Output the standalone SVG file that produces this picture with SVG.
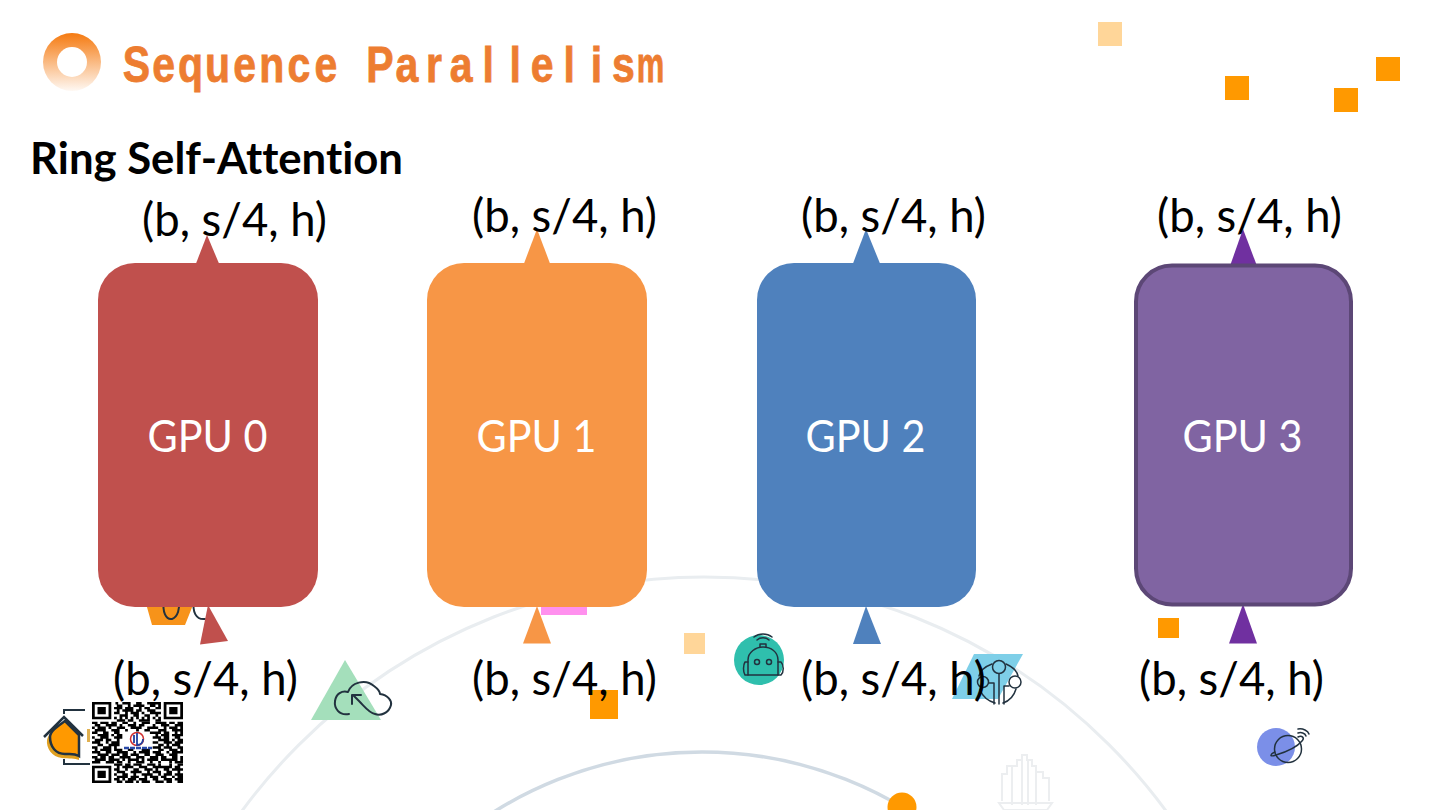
<svg xmlns="http://www.w3.org/2000/svg" width="1440" height="810" viewBox="0 0 1440 810">
<style>
.cal{font-family:"Lato","Carlito","Liberation Sans",sans-serif;font-variant-ligatures:none}
.dim{font-size:47px;fill:#000}
.gpu{font-size:44px;fill:#fff;text-anchor:middle}
.ic{fill:none;stroke:#22323f;stroke-width:2;stroke-linecap:round;stroke-linejoin:round}
.sq{fill:#ff9900}
.sql{fill:#ffd699}
.pale{fill:none;stroke:#eceef0;stroke-width:2}
.ttl{font-family:"Liberation Sans",Arial,sans-serif;font-weight:700;font-size:50px;fill:#ed7d31;stroke:#ed7d31;stroke-width:.8px;text-anchor:middle}
</style>
<defs>
<linearGradient id="ring" x1="0" y1="0" x2="0" y2="1">
<stop offset="0" stop-color="#f57a10"/><stop offset="1" stop-color="#f57a10" stop-opacity="0.05"/>
</linearGradient>
</defs>
<rect width="1440" height="810" fill="#fff"/>
<g id="backdrop">
<circle cx="704" cy="1150" r="573" fill="none" stroke="#e9edf0" stroke-width="3"/>
<circle cx="702" cy="1143" r="391" fill="none" stroke="#d0dae3" stroke-width="3.5"/>
<circle cx="902" cy="807" r="14.500" fill="#ff9900"/>
<rect class="sq" x="1225" y="76" width="24" height="24"/>
<rect class="sq" x="1334" y="88" width="24" height="24"/>
<rect class="sq" x="1376" y="57" width="24" height="24"/>
<rect class="sql" x="1098" y="22" width="24" height="24"/>
<rect class="sql" x="684" y="633" width="21" height="21"/>
<rect class="sq" x="1158" y="618" width="21" height="20"/>
<rect class="sq" x="590" y="690" width="28" height="29"/>
<rect x="541" y="600" width="46" height="15" fill="#ff90ee"/>
<path d="M145 600L152 625H185L195 600Z" fill="#f7931a"/>
<path class="ic" d="M164 600C162 612 166 620 172 619C178 617 180 608 179 600M194 600C192 612 196 620 205 619" />
<path d="M345 660L311 720H381Z" fill="#a4dfbb"/>
<path class="ic" d="M349 714C339 716 334 708 335 701C336 694 342 690 348 692C351 683 365 678 374 686C378 689 380 692 380 694C388 695 392 701 391 705C389 713 381 716 375 714C369 713 365 707 359 701L353 695M352 704V695H361"/>
<circle cx="759" cy="660" r="25" fill="#2fbfad"/>
<g class="ic" style="stroke-width:1.500">
<path d="M753 675V660C753 652 761 647 768 647C776 647 783 652 783 660V675Z" transform="translate(-5 0)"/>
<path d="M748 662H745C743 665 743 672 745 675H748M778 662H781C784 665 784 672 781 675H778"/>
<circle cx="757" cy="662" r="2.500"/><circle cx="769" cy="662" r="2.500"/>
<path d="M760 647V644H766V647M757 640C760 637 766 637 769 640M754 637C759 633 767 633 772 637"/>
</g>
<path d="M974 654H1023L998 699H952Z" fill="#7ecfe8"/>
<g class="ic" style="stroke-width:1.500">
<path d="M1006 664C1013 667 1017 671 1018 676M992 664C984 667 980 671 979 676M980 690C983 697 988 701 995 703M1016 689C1014 696 1009 701 1003 703"/>
<circle cx="999" cy="667" r="6.500"/><circle cx="1015" cy="682" r="6"/><circle cx="983" cy="682" r="5.500"/>
<path d="M999 674V704M994 704V683H989M1004 704V686H1009"/>
</g>
<circle cx="1276" cy="747" r="19" fill="#7b8fe8"/>
<g class="ic" style="stroke-width:1.500">
<circle cx="1288" cy="749" r="13.500"/>
<path d="M1275 752C1269 755 1270 757 1276 755C1286 752 1297 747 1302 741C1305 738 1302 735 1298 737"/>
<path d="M1298 733C1301 732 1305 733 1306 736M1298 729C1303 728 1308 731 1309 734"/>
</g>
<g id="city" class="pale">
<path d="M1002 801V774H1007V766H1012V772M1012 805V766H1017V760H1022V755H1027V760H1032V766H1036V805M1036 772H1043V778H1049V801M1022 760V805M1028 760V805"/>
<path d="M999 803H1052L1047 810H1004Z"/>
</g>
<g id="home">
<path d="M47 740C46 748 52 757 62 758C69 759 75 758 79 760V736C72 730 66 724 64 722C56 727 48 734 47 740Z" fill="#e0a020"/>
<path d="M50 737C50 747 56 754 65 754C70 754 74 753 79 756V735L65 721C58 726 50 731 50 737Z" fill="#ff9900" stroke="#22323f" stroke-width="2.500"/>
<path d="M44 737L64 717L83 736" fill="none" stroke="#22323f" stroke-width="2.500"/>
<path d="M64 714V710H85M64 759V764H90" fill="none" stroke="#22323f" stroke-width="2"/>
<rect x="87" y="729" width="3" height="13" fill="#e0b050"/>
</g>
</g>
<g id="qr" transform="translate(92 702) scale(2.758 2.455)">
<rect width="33" height="33" fill="#fff"/>
<g fill="none" stroke="#000">
<path d="M8.500 .5h1M11 .5h3M16 .5h2M20 .5h5M9 1.500h2M13 1.500h1M15 1.500h4M21 1.500h2M24 1.500h1M8 2.500h3M12 2.500h3M17 2.500h1M19 2.500h2M23 2.500h2M9 3.500h1M11 3.500h4M16 3.500h2M20 3.500h3M8 4.500h2M12 4.500h1M14 4.500h3M18 4.500h1M21 4.500h4M10 5.500h3M15 5.500h2M19 5.500h2M23 5.500h1M8 6.500h1M10 6.500h1M12 6.500h1M14 6.500h1M16 6.500h1M18 6.500h1M20 6.500h1M22 6.500h1M24 6.500h1M9 7.500h3M13 7.500h2M17 7.500h4M23 7.500h2"/>
<path d="M0 8.500h2M3 8.500h3M7 8.500h2M11 8.500h2M15 8.500h1M18 8.500h3M23 8.500h4M28 8.500h2M31 8.500h2M1 9.500h2M5 9.500h4M10 9.500h1M13 9.500h3M17 9.500h2M22 9.500h1M25 9.500h3M30 9.500h3M0 10.500h1M2 10.500h3M6 10.500h1M9 10.500h3M14 10.500h4M20 10.500h4M26 10.500h1M28 10.500h3M32 10.500h1M1 11.500h4M7 11.500h3M12 11.500h1M16 11.500h1M19 11.500h2M24 11.500h3M29 11.500h4M0 12.500h2M4 12.500h2M8 12.500h2M21 12.500h4M26 12.500h2M30 12.500h1M32 12.500h1M2 13.500h4M7 13.500h1M9 13.500h2M23 13.500h1M25 13.500h3M29 13.500h4M0 14.500h1M3 14.500h3M8 14.500h3M22 14.500h3M26 14.500h2M30 14.500h2M1 15.500h3M5 15.500h2M9 15.500h1M24 15.500h4M29 15.500h1M31 15.500h2M0 16.500h3M5 16.500h1M7 16.500h3M22 16.500h2M26 16.500h3M30 16.500h3M2 17.500h2M6 17.500h4M24 17.500h2M27 17.500h1M29 17.500h3M0 18.500h2M4 18.500h3M8 18.500h1M22 18.500h3M26 18.500h3M31 18.500h2M1 19.500h1M3 19.500h4M8 19.500h3M13 19.500h2M18 19.500h3M24 19.500h2M28 19.500h3M32 19.500h1M0 20.500h3M5 20.500h2M9 20.500h4M15 20.500h1M17 20.500h4M22 20.500h3M27 20.500h1M29 20.500h4M2 21.500h4M7 21.500h3M11 21.500h2M14 21.500h3M19 21.500h2M23 21.500h3M28 21.500h3M0 22.500h2M3 22.500h2M6 22.500h2M10 22.500h4M16 22.500h3M21 22.500h3M25 22.500h2M29 22.500h2M32 22.500h1M1 23.500h4M6 23.500h4M11 23.500h1M13 23.500h4M18 23.500h1M20 23.500h4M25 23.500h6M32 23.500h1M0 24.500h3M5 24.500h3M9 24.500h2M13 24.500h1M16 24.500h3M21 24.500h1M24 24.500h1M28 24.500h1M30 24.500h3"/>
<path d="M8 25.500h3M12 25.500h2M15 25.500h3M20 25.500h3M24 25.500h1M28 25.500h1M31 25.500h2M9 26.500h1M11 26.500h4M17 26.500h3M22 26.500h2M24 26.500h5M30 26.500h2M8 27.500h2M12 27.500h1M15 27.500h2M19 27.500h3M23 27.500h1M26 27.500h2M29 27.500h4M9 28.500h3M14 28.500h4M20 28.500h1M22 28.500h3M27 28.500h2M31 28.500h1M8 29.500h1M11 29.500h2M15 29.500h1M18 29.500h4M24 29.500h1M26 29.500h3M30 29.500h3M9 30.500h4M14 30.500h3M19 30.500h1M21 30.500h3M25 30.500h2M29 30.500h1M31 30.500h2M8 31.500h2M11 31.500h1M13 31.500h3M17 31.500h3M22 31.500h2M26 31.500h3M30 31.500h3M9 32.500h2M12 32.500h3M16 32.500h1M18 32.500h3M23 32.500h3M27 32.500h2M31 32.500h2"/>
<path d="M.5 .5h6v6h-6zM26.500 .5h6v6h-6zM.5 26.500h6v6h-6z"/>
</g>
<path d="M2 2h3v3h-3zM28 2h3v3h-3zM2 28h3v3h-3z" fill="#000"/>
</g>
<g id="qr-logo">
<circle cx="137" cy="739" r="6.500" fill="#fff" stroke="#d03030" stroke-width="1.500"/>
<path d="M134 735V743M137 733V745C141 745 143 742 143 739" fill="none" stroke="#2040a0" stroke-width="1.800"/>
<path d="M124 748H152" stroke="#2a4aa8" stroke-width="2.500" stroke-dasharray="5 1"/>
</g>
<g id="connectors">
<path d="M207 235L196 263.500H219Z" fill="#c0504d"/>
<path d="M537 229L524 263.500H550Z" fill="#f79646"/>
<path d="M866 229L853 263.500H880Z" fill="#4f81bd"/>
<path d="M1243 229L1230 266H1257Z" fill="#7030a0"/>
<path d="M208 605L200 644.500L228 641Z" fill="#c0504d"/>
<path d="M537 606L523 643.500H551Z" fill="#f79646"/>
<path d="M866 606L853 644H881Z" fill="#4f81bd"/>
<path d="M1243 604L1229 643.500H1257Z" fill="#7030a0"/>
</g>
<g id="gpu0"><rect x="98" y="263" width="220" height="344" rx="37" fill="#c0504d"/><text class="cal gpu" x="207.500" y="452" textLength="120" lengthAdjust="spacingAndGlyphs">GPU 0</text></g>
<g id="gpu1"><rect x="427" y="263" width="220" height="344" rx="37" fill="#f79646"/><text class="cal gpu" x="536.500" y="452" textLength="120" lengthAdjust="spacingAndGlyphs">GPU 1</text></g>
<g id="gpu2"><rect x="757" y="263" width="219" height="344" rx="37" fill="#4f81bd"/><text class="cal gpu" x="865.500" y="452" textLength="120" lengthAdjust="spacingAndGlyphs">GPU 2</text></g>
<g id="gpu3"><rect x="1136" y="265.500" width="215" height="339" rx="36" fill="#8064a2" stroke="#5c4776" stroke-width="4"/><text class="cal gpu" x="1242.500" y="452" textLength="120" lengthAdjust="spacingAndGlyphs">GPU 3</text></g>
<g id="labels">
<text class="cal dim" x="142" y="236" textLength="185" lengthAdjust="spacingAndGlyphs">(b, s/4, h)</text>
<text class="cal dim" x="472" y="232" textLength="185" lengthAdjust="spacingAndGlyphs">(b, s/4, h)</text>
<text class="cal dim" x="801" y="232" textLength="185" lengthAdjust="spacingAndGlyphs">(b, s/4, h)</text>
<text class="cal dim" x="1157" y="232" textLength="185" lengthAdjust="spacingAndGlyphs">(b, s/4, h)</text>
<text class="cal dim" x="113" y="695" textLength="185" lengthAdjust="spacingAndGlyphs">(b, s/4, h)</text>
<text class="cal dim" x="472" y="695" textLength="185" lengthAdjust="spacingAndGlyphs">(b, s/4, h)</text>
<text class="cal dim" x="801" y="695" textLength="185" lengthAdjust="spacingAndGlyphs">(b, s/4, h)</text>
<text class="cal dim" x="1139" y="695" textLength="185" lengthAdjust="spacingAndGlyphs">(b, s/4, h)</text>
</g>
<g id="title">
<circle cx="72" cy="62" r="29" fill="url(#ring)"/>
<circle cx="72" cy="62" r="15" fill="#fff"/>
<text class="ttl" transform="scale(.82 1)" y="82" x="166.500 199.500 232.400 265.400 298.400 331.400 364.400 397.400 430.400 463.400 496.300 529.300 562.300 595.300 628.300 661.300 694.300 727.300 760.200">Sequence Parallelis</text>
<text class="ttl" transform="translate(650.500 82) scale(.62 1)">m</text>
<text class="cal" x="30" y="174" font-size="44" font-weight="700" fill="#000" textLength="373" lengthAdjust="spacingAndGlyphs">Ring Self-Attention</text>
</g>
</svg>
